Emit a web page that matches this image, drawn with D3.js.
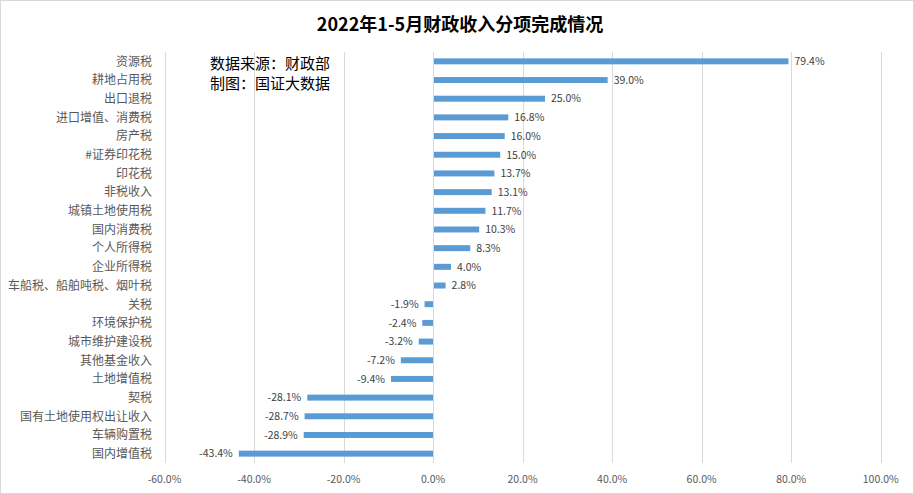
<!DOCTYPE html>
<html><head><meta charset="utf-8">
<script src="https://cdn.jsdelivr.net/npm/d3@7"></script>
<style>body{margin:0;background:#fff}svg{display:block}</style>
</head><body>
<svg id="c" width="914" height="494"></svg>
<script>
const categories = ["资源税","耕地占用税","出口退税","进口增值、消费税","房产税","#证券印花税","印花税","非税收入","城镇土地使用税","国内消费税","个人所得税","企业所得税","车船税、船舶吨税、烟叶税","关税","环境保护税","城市维护建设税","其他基金收入","土地增值税","契税","国有土地使用权出让收入","车辆购置税","国内增值税"];
const values = [79.4,39.0,25.0,16.8,16.0,15.0,13.7,13.1,11.7,10.3,8.3,4.0,2.8,-1.9,-2.4,-3.2,-7.2,-9.4,-28.1,-28.7,-28.9,-43.4];
const tickValues = [-60,-40,-20,0,20,40,60,80,100];
const title = "2022年1-5月财政收入分项完成情况";
const notes = ["数据来源：财政部","制图：国证大数据"];

const font = "'Noto Sans CJK SC','Noto Sans',sans-serif";
const svg = d3.select("#c");
svg.append("rect").attr("x",0.5).attr("y",0.5).attr("width",913).attr("height",493)
  .attr("fill","#fff").attr("stroke","#d9d9d9");

const x = d3.scaleLinear().domain([-60,100]).range([164.5,880.7]);
const y = d3.scaleBand().domain(categories).range([52,463]).paddingInner(0.68).paddingOuter(0.34);

// grid
svg.append("g").selectAll("line").data(tickValues).join("line")
  .attr("x1",d=>Math.round(x(d))+0.5).attr("x2",d=>Math.round(x(d))+0.5)
  .attr("y1",52).attr("y2",463).attr("stroke","#d9d9d9").attr("stroke-width",1);

// x tick labels
svg.append("g").selectAll("text").data(tickValues).join("text")
  .attr("x",d=>x(d)).attr("y",483).attr("text-anchor","middle")
  .attr("font-family",font).attr("font-size",10.5).attr("fill","#595959")
  .text(d=>d.toFixed(1)+"%");

const data = categories.map((c,i)=>({c,v:values[i]}));

// bars
svg.append("g").selectAll("rect").data(data).join("rect")
  .attr("x",d=>x(Math.min(0,d.v))).attr("width",d=>Math.abs(x(d.v)-x(0)))
  .attr("y",d=>y(d.c)).attr("height",y.bandwidth()).attr("fill","#5b9bd5");

// zero axis line
svg.append("line").attr("x1",Math.round(x(0))+0.5).attr("x2",Math.round(x(0))+0.5)
  .attr("y1",52).attr("y2",463).attr("stroke","#d9d9d9");

// value labels
svg.append("g").selectAll("text").data(data).join("text")
  .attr("x",d=>d.v>=0? x(d.v)+6 : x(d.v)-6)
  .attr("y",d=>y(d.c)+y.bandwidth()/2).attr("dy","0.36em")
  .attr("text-anchor",d=>d.v>=0?"start":"end")
  .attr("font-family",font).attr("font-size",10.5).attr("fill","#404040")
  .text(d=>d.v.toFixed(1)+"%");

// category labels
svg.append("g").selectAll("text").data(data).join("text")
  .attr("x",152).attr("y",d=>y(d.c)+y.bandwidth()/2).attr("dy","0.36em")
  .attr("text-anchor","end").attr("font-family",font).attr("font-size",12).attr("fill","#595959")
  .text(d=>d.c);

// title
svg.append("text").attr("x",460).attr("y",31).attr("text-anchor","middle")
  .attr("font-family",font).attr("font-weight","bold").attr("font-size",18).attr("fill","#000")
  .text(title);

// notes
svg.append("g").selectAll("text").data(notes).join("text")
  .attr("x",210).attr("y",(d,i)=>69+i*20)
  .attr("font-family",font).attr("font-size",15).attr("fill","#000")
  .text(d=>d);
</script>
</body></html>
